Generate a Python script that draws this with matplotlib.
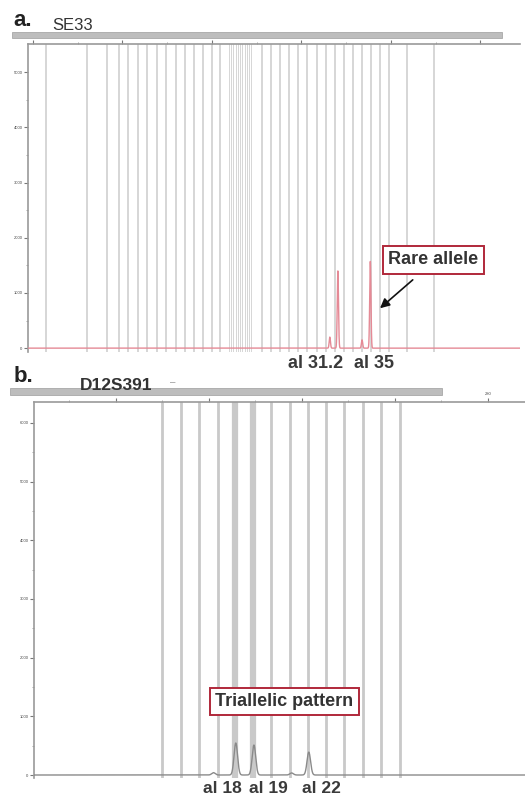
import numpy as np
import matplotlib.pyplot as plt
from matplotlib.patches import Rectangle

plt.rcParams['font.family'] = ['Liberation Sans', 'DejaVu Sans']

# ---- panel a: SE33 ----
a_bins = [205.8, 224.1, 233.1, 238.4, 242.5, 246.9, 250.9, 255.4, 259.4, 263.9,
          267.9, 272.0, 276.0, 280.0, 283.6, 287.6, 288.6, 289.6, 290.6, 291.6,
          292.6, 293.6, 294.6, 295.6, 296.6, 297.6, 302.3, 306.4, 310.4, 314.4,
          318.4, 322.5, 326.9, 331.0, 335.0, 339.0, 343.0, 347.0, 351.1, 355.1,
          359.1, 367.2, 379.2]
a_peak_bp = [332.7, 336.3, 347.1, 350.8]
a_peak_rfu = [200, 1400, 150, 1570]
a_labels = ["al 31.2", "al 35"]
a_label_bp = [326.5, 352.4]
a_xticks = [200, 240, 280, 320, 360, 400]
a_yticks = [0, 1000, 2000, 3000, 4000, 5000]

# ---- panel b: D12S391 ----
b_bins = [209.9, 214.0, 217.8, 221.9, 225.6, 229.6, 233.3, 237.4, 241.3, 245.2,
          249.0, 253.1, 257.0, 261.1]
b_wide = [225.6, 229.6]
b_peak_bp = [221.0, 225.8, 229.7, 237.8, 241.5]
b_peak_rfu = [40, 545, 510, 35, 390]
b_labels = ["al 18", "al 19", "al 22"]
b_label_bp = [223.0, 232.9, 244.3]
b_xticks = [200, 220, 240, 260, 280]
b_yticks = [0, 1000, 2000, 3000, 4000, 5000, 6000]

W, H = 525, 798
fig = plt.figure(figsize=(W / 100, H / 100), dpi=100)


def px_axes(left, top, right, bottom):
    return fig.add_axes([left / W, 1 - bottom / H, (right - left) / W, (bottom - top) / H])


def style_axes(ax, xticks, yticks, minor_x, minor_y):
    for s in ['right', 'bottom']:
        ax.spines[s].set_visible(False)
    for s in ['left', 'top']:
        ax.spines[s].set_color('#9a9a9a')
        ax.spines[s].set_linewidth(1.2)
    ax.xaxis.tick_top()
    ax.set_xticks(xticks)
    ax.set_xticklabels([str(t) for t in xticks], fontsize=3, color='#444')
    ax.set_xticks(minor_x, minor=True)
    ax.set_yticks(yticks)
    ax.set_yticklabels([str(t) for t in yticks], fontsize=3, color='#444')
    ax.set_yticks(minor_y, minor=True)
    ax.tick_params(which='major', length=3, width=0.8, color='#777', pad=1)
    ax.tick_params(which='minor', length=1.5, width=0.6, color='#999')


def trace(ax, bps, rfus, sigma, color, lw):
    lo, hi = ax.get_xlim()
    x = np.linspace(lo, hi, 6000)
    y = np.zeros_like(x)
    for b, r in zip(bps, rfus):
        y += r * np.exp(-0.5 * ((x - b) / sigma) ** 2)
    ax.plot(x, y, color=color, lw=lw, zorder=3)


# panel a
ax1 = px_axes(28, 44, 520, 352)
ax1.set_xlim(197.8, 417.7)
ax1.set_ylim(-70, 5510)
for i, b in enumerate(a_bins):
    dense = 287 < b < 298
    ax1.axvline(b, color='#d6d6d6' if dense else '#cccccc',
                lw=0.7 if dense else 1.1, zorder=1)
trace(ax1, a_peak_bp, a_peak_rfu, 0.28, '#e58a96', 1.0)
style_axes(ax1, a_xticks, a_yticks, [220, 260, 300, 340, 380],
           [500, 1500, 2500, 3500, 4500])
for lab, b in zip(a_labels, a_label_bp):
    ax1.text(b, -280, lab, ha='center', va='center', fontsize=13,
             fontweight='bold', color='#3a3a3a', clip_on=False)
ax1.annotate('', xy=(354.2, 690), xytext=(370.7, 1270),
             arrowprops=dict(arrowstyle='-|>', color='#111', lw=1.2,
                             mutation_scale=14), zorder=5)
ax1.text(379.0, 1600, "Rare allele", ha='center', va='center', fontsize=13,
         fontweight='bold', color='#333', zorder=6,
         bbox=dict(boxstyle='square,pad=0.3', fc='white', ec='#b0283a', lw=1.4))

# panel b
ax2 = px_axes(34, 402, 525, 778)
ax2.set_xlim(182.4, 288.0)
ax2.set_ylim(-51, 6355)
for b in b_bins:
    w = 4.5 if b in b_wide else 2.0
    ax2.axvline(b, color='#c9c9c9', lw=w, zorder=1)
trace(ax2, b_peak_bp, b_peak_rfu, 0.38, '#8a8a8a', 1.0)
style_axes(ax2, b_xticks, b_yticks, [190, 210, 230, 250, 270],
           [500, 1500, 2500, 3500, 4500, 5500])
for lab, b in zip(b_labels, b_label_bp):
    ax2.text(b, -225, lab, ha='center', va='center', fontsize=12.5,
             fontweight='bold', color='#3a3a3a', clip_on=False)
ax2.text(236.2, 1252, "Triallelic pattern", ha='center', va='center', fontsize=13,
         fontweight='bold', color='#333', zorder=6,
         bbox=dict(boxstyle='square,pad=0.3', fc='white', ec='#b0283a', lw=1.4))

# header bars and titles
fig.patches.append(Rectangle((12 / W, 1 - 38 / H), 490 / W, 6 / H,
                             transform=fig.transFigure, fc='#bdbdbd', ec='#a8a8a8', lw=0.6))
fig.patches.append(Rectangle((10 / W, 1 - 395 / H), 432 / W, 7 / H,
                             transform=fig.transFigure, fc='#bdbdbd', ec='#a8a8a8', lw=0.6))
fig.text(13 / W, 1 - 20 / H, "a.", fontsize=16, fontweight='bold', color='#222', va='center')
fig.text(52 / W, 1 - 26 / H, "SE33", fontsize=12, color='#333', va='center')
fig.text(14 / W, 1 - 377 / H, "b.", fontsize=16, fontweight='bold', color='#222', va='center')
fig.text(80 / W, 1 - 386 / H, "D12S391", fontsize=12.5, fontweight='semibold',
         color='#333', va='center')
fig.text(170 / W, 1 - 382 / H, "–", fontsize=7, color='#999', va='center')

fig.savefig('out.png', dpi=100)
